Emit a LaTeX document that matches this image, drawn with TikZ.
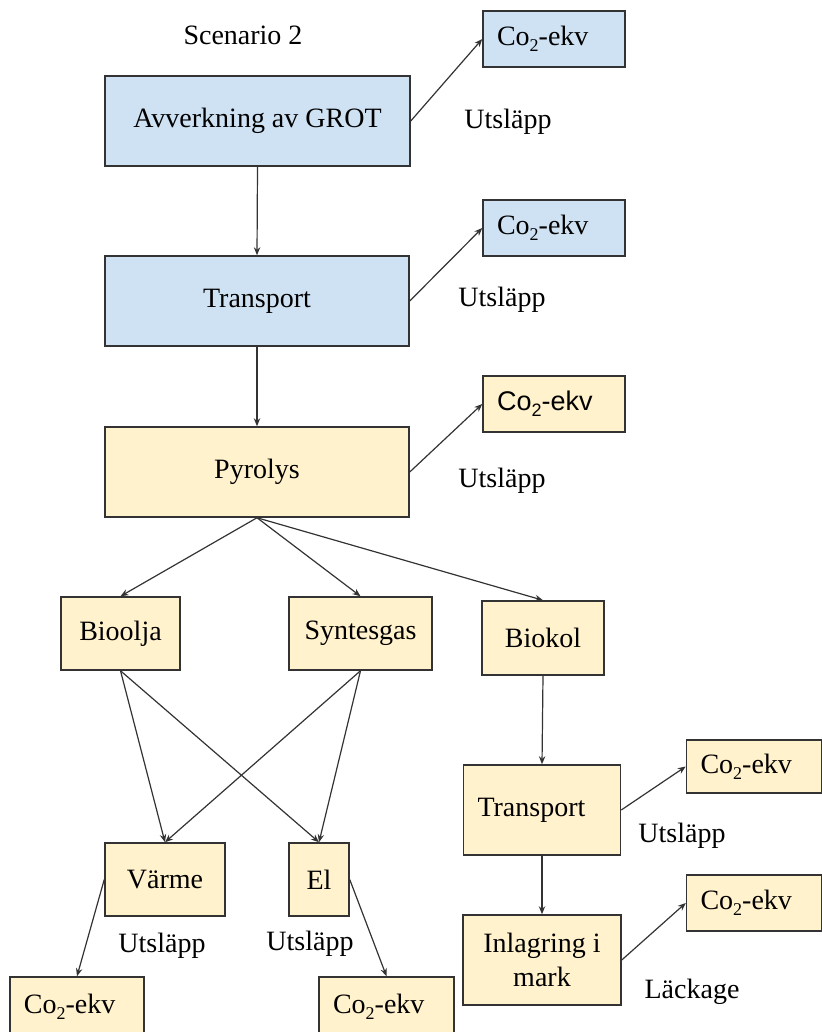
\documentclass[tikz,border=0pt]{standalone}
\usepackage{fontspec}
\setmainfont{Liberation Serif}
\newfontfamily\arialfont{Liberation Sans}
\usetikzlibrary{arrows.meta,positioning,calc}
\definecolor{lightblue}{HTML}{CFE2F3}
\definecolor{lightyellow}{HTML}{FFF2CC}
\definecolor{edgegray}{HTML}{333333}
\tikzset{
  post/.style={->,>={Stealth[length=4pt,width=3.2pt]},line width=0.6pt,draw=edgegray},
}
\newcommand{\coekv}{Co\raisebox{-0.45ex}{\fontsize{9}{9}\selectfont 2}-ekv}

\begin{document}
\begin{tikzpicture}[x=0.5pt,y=-0.5pt,
      every node/.style={font=\fontsize{14}{17}\selectfont},
      box/.style={draw=edgegray,line width=0.75pt,inner sep=0pt,align=center},
      bluebox/.style={box,fill=lightblue},
      yellowbox/.style={box,fill=lightyellow},
      lefttext/.style={text width=#1,inner xsep=7pt,align=left},
      co2/.style={lefttext=#1,minimum height=28pt},]
      \useasboundingbox (0,0) rectangle (822,1032);

      \node (scen) at (243,35) {Scenario 2};
      \node[bluebox,minimum width=152.5pt,minimum height=45pt] (avv) at (257.5,121) {Avverkning av GROT};
      \node[bluebox,co2=57pt] (co2a) at (554,39) {\coekv};
      \node (utsla) at (508,122) {Utsläpp};

      \node[bluebox,minimum width=152pt,minimum height=45pt] (trp) at (257,301) {Transport};
      \node[bluebox,co2=57pt] (co2b) at (554,228) {\coekv};
      \node (utslb) at (502,300) {Utsläpp};

      \node[yellowbox,minimum width=152pt,minimum height=45pt] (pyr) at (257,472) {Pyrolys};
      \node[yellowbox,co2=57pt,font=\arialfont\fontsize{13.5}{17}\selectfont] (co2c) at (554,404) {\coekv};
      \node (utslc) at (502,481) {Utsläpp};

      \node[yellowbox,minimum width=59.5pt,minimum height=36.5pt] (bio) at (120.5,633.5) {Bioolja};
      \node[yellowbox,minimum width=71.5pt,minimum height=36.5pt] (syn) at (360.5,633.5) {Syntesgas};
      \node[yellowbox,minimum width=61pt,minimum height=37pt] (kol) at (543,638) {Biokol};

      \node[yellowbox,lefttext=64.5pt,minimum height=45pt] (trp2) at (542,810) {Transport};
      \node[yellowbox,co2=53.5pt,minimum height=26.5pt] (co2d) at (754,766.5) {\coekv};
      \node (utsld) at (682,836) {Utsläpp};

      \node[yellowbox,minimum width=79pt,minimum height=45pt] (lag) at (542,960) {Inlagring i\\mark};
      \node[yellowbox,co2=53.5pt] (co2e) at (754,903) {\coekv};
      \node (lack) at (692,992) {Läckage};

      \node[yellowbox,minimum width=60pt,minimum height=36.5pt] (varme) at (165,879.5) {Värme};
      \node[yellowbox,minimum width=30pt,minimum height=36.5pt] (el) at (319,879.5) {El};
      \node (utsle) at (162,946) {Utsläpp};
      \node (utslf) at (310,944) {Utsläpp};
      \node[yellowbox,co2=53pt,minimum height=30pt] (co2f) at (77,1007) {\coekv};
      \node[yellowbox,co2=53.5pt,minimum height=30pt] (co2g) at (386.5,1007) {\coekv};

      \draw[post] (avv.east) -- (co2a.west);
      \draw[post] (avv.south) -- (trp.north);
      \draw[post] (trp.east) -- (co2b.west);
      \draw[post] (trp.south) -- (pyr.north);
      \draw[post] (pyr.east) -- (co2c.west);
      \draw[post] (pyr.south) -- (bio.north);
      \draw[post] (pyr.south) -- (syn.north);
      \draw[post] (pyr.south) -- (kol.north);
      \draw[post] (bio.south) -- (varme.north);
      \draw[post] (bio.south) -- (el.north);
      \draw[post] (syn.south) -- (varme.north);
      \draw[post] (syn.south) -- (el.north);
      \draw[post] (kol.south) -- (trp2.north);
      \draw[post] (trp2.east) -- (co2d.west);
      \draw[post] (trp2.south) -- (lag.north);
      \draw[post] (lag.east) -- (co2e.west);
      \draw[post] (varme.west) -- (co2f.north);
      \draw[post] (el.east) -- (co2g.north);
\end{tikzpicture}
\end{document}
